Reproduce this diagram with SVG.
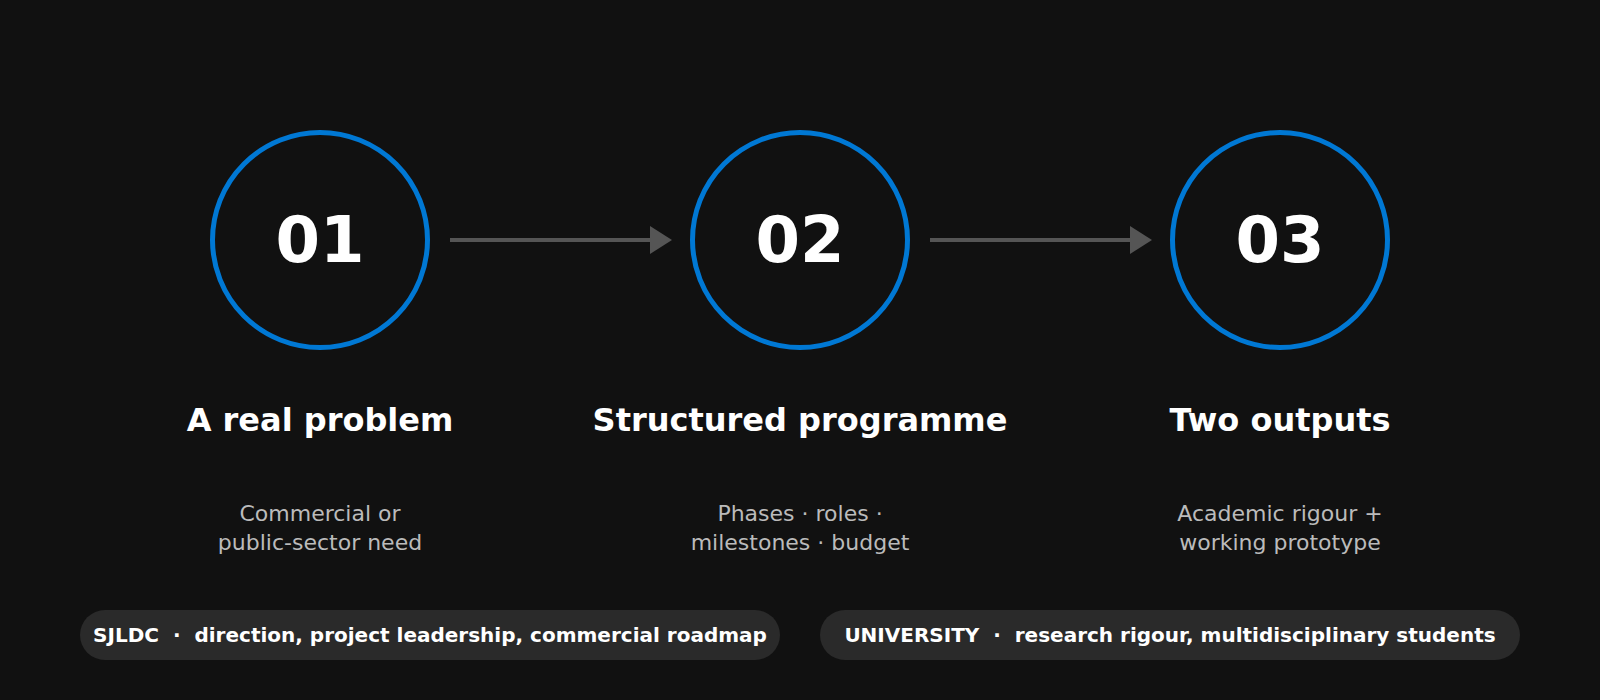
<svg xmlns="http://www.w3.org/2000/svg" width="1600" height="700" viewBox="0 0 1600 700">
<style>
.ring{fill:none;stroke:#0078d4;stroke-width:5}
.num{font-family:"DejaVu Sans",sans-serif;font-weight:bold;font-size:64px;fill:#ffffff;text-anchor:middle}
.title{font-family:"DejaVu Sans",sans-serif;font-weight:bold;font-size:32px;fill:#ffffff;text-anchor:middle}
.sub{font-family:"DejaVu Sans",sans-serif;font-size:22px;fill:#bbbbbb;text-anchor:middle}
.pill{fill:#2a2a2a}
.pilltxt{font-family:"DejaVu Sans",sans-serif;font-weight:bold;font-size:20px;fill:#ffffff;text-anchor:middle;white-space:pre}
.conn{stroke:#555555;stroke-width:4;fill:none}
</style>
<defs>
<marker id="arr" markerUnits="userSpaceOnUse" markerWidth="22" markerHeight="28" refX="0" refY="14" orient="auto" viewBox="0 0 22 28">
<polygon points="0,0 22,14 0,28" fill="#555555"/>
</marker>
</defs>
<rect width="1600" height="700" fill="#111111"/>
<g id="connectors">
<line class="conn" x1="450" y1="240" x2="650" y2="240" marker-end="url(#arr)"/>
<line class="conn" x1="930" y1="240" x2="1130" y2="240" marker-end="url(#arr)"/>
</g>
<g id="step1">
<circle class="ring" cx="320" cy="240" r="107.5"/>
<text class="num" x="320" y="262">01</text>
<text class="title" x="320" y="431">A real problem</text>
<text class="sub" x="320" y="520.5">Commercial or</text>
<text class="sub" x="320" y="550">public-sector need</text>
</g>
<g id="step2">
<circle class="ring" cx="800" cy="240" r="107.5"/>
<text class="num" x="800" y="262">02</text>
<text class="title" x="800" y="431">Structured programme</text>
<text class="sub" x="800" y="520.5">Phases · roles ·</text>
<text class="sub" x="800" y="550">milestones · budget</text>
</g>
<g id="step3">
<circle class="ring" cx="1280" cy="240" r="107.5"/>
<text class="num" x="1280" y="262">03</text>
<text class="title" x="1280" y="431">Two outputs</text>
<text class="sub" x="1280" y="520.5">Academic rigour +</text>
<text class="sub" x="1280" y="550">working prototype</text>
</g>
<g id="pill-sjldc">
<rect class="pill" x="80" y="610" width="700" height="50" rx="25"/>
<text class="pilltxt" x="430" y="642" xml:space="preserve">SJLDC  ·  direction, project leadership, commercial roadmap</text>
</g>
<g id="pill-university">
<rect class="pill" x="820" y="610" width="700" height="50" rx="25"/>
<text class="pilltxt" x="1170" y="642" xml:space="preserve">UNIVERSITY  ·  research rigour, multidisciplinary students</text>
</g>
</svg>
